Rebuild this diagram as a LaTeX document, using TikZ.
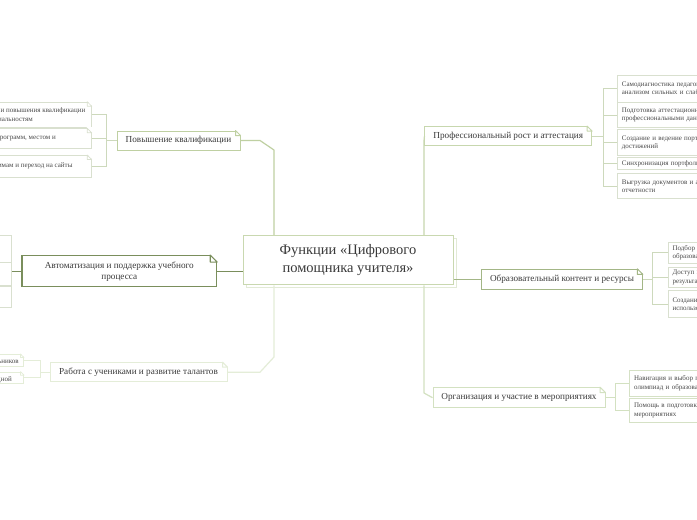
\documentclass[tikz,border=0pt]{standalone}
\usepackage{fontspec}
\setmainfont{Liberation Serif}
\usetikzlibrary{calc}
\definecolor{txt}{HTML}{3A3A3A}
\definecolor{subtxt}{HTML}{4A4A4A}
\definecolor{cc}{HTML}{C9D8B0}
\definecolor{csh}{HTML}{E2EAD6}
\definecolor{pkc}{HTML}{BFD0A2}
\definecolor{autoc}{HTML}{7A8E5C}
\definecolor{rabc}{HTML}{E4EDD8}
\definecolor{profc}{HTML}{C7D7AE}
\definecolor{obrc}{HTML}{A3B686}
\definecolor{orgc}{HTML}{D3E1C1}
\definecolor{subc}{HTML}{D9E0CF}
\definecolor{subl}{HTML}{CDD9BC}
\newcommand{\mydogear}[3]{%
  \fill[white] ($(#1.north east)+(-#2-0.7,-1.3)$) -- ($(#1.north east)+(1.3,-1.3)$) -- ($(#1.north east)+(1.3,#2+0.7)$) -- cycle;
  \draw[#3, line join=round] ($(#1.north east)+(-#2,0)$) -- ($(#1.north east)+(0,#2)$) -- ($(#1.north east)+(-#2,#2)$) -- cycle;
}
\tikzset{
  brnode/.style={fill=white, inner sep=0pt, font=\fontsize{9.2}{11}\selectfont, text=txt, align=center},
  subR/.style={draw=subc, line width=0.7pt, fill=white, anchor=north west, text width=192pt, inner xsep=4.5pt, inner ysep=0pt, font=\fontsize{7}{8.5}\selectfont, text=subtxt, align=left},
  subL/.style={draw=subc, line width=0.7pt, fill=white, anchor=north east, minimum width=200pt, inner sep=0pt},
  subtext/.style={inner sep=0pt, anchor=base east, font=\fontsize{7}{8.5}\selectfont, text=subtxt},
  subline/.style={draw=subl, line width=0.7pt},
}
\begin{document}
\begin{tikzpicture}[x=1pt,y=-1pt]
\useasboundingbox (0,0) rectangle (697,520);
\fill[white] (0,0) rectangle (697,520);
\clip (0,0) rectangle (697,520);

% central node with shadow
\draw[csh, line width=1pt] (246,238) rectangle (456,287.5);
\node[draw=cc, line width=1pt, fill=white, minimum width=210pt, minimum height=49.5pt, inner sep=0pt,
      font=\fontsize{14.5}{18}\selectfont, align=center, text=txt] (c) at (348,260) {Функции «Цифрового\\помощника учителя»};

% branch nodes
\node[brnode, draw=pkc, line width=1pt, minimum width=123pt, minimum height=19pt] (pk) at (178.5,140.5) {Повышение квалификации};
\node[brnode, draw=autoc, line width=1.3pt, minimum width=194.5pt, minimum height=31pt] (au) at (119.3,271.2) {Автоматизация и поддержка учебного\\процесса};
\node[brnode, draw=rabc, line width=1pt, minimum width=177pt, minimum height=19pt] (rb) at (138.5,372.2) {Работа с учениками и развитие талантов};
\node[brnode, draw=profc, line width=1pt, minimum width=166.7pt, minimum height=19.3pt] (pr) at (508.3,136.3) {Профессиональный рост и аттестация};
\node[brnode, draw=obrc, line width=1pt, minimum width=160.6pt, minimum height=20pt] (ob) at (562,279.3) {Образовательный контент и ресурсы};
\node[brnode, draw=orgc, line width=1pt, minimum width=172pt, minimum height=20pt] (og) at (519,397.7) {Организация и участие в мероприятиях};

% left sub boxes (Повышение квалификации)
\node[subL, minimum height=25pt] (k1) at (91.7,101.7) {};
\node[subL, minimum height=20pt] (k2) at (91.7,128.3) {};
\node[subL, minimum height=21.7pt] (k3) at (91.7,155) {};
\node[subtext] (k1a) at (85.5,112) {Подбор курсов и повышения квалификации};
\node[subtext] (k1b) at (33,121) {по специальностям};
\node[subtext] (k2a) at (56,139.5) {Поиск программ, местом и};
\node[subtext] (k3a) at (72.7,167.5) {Доступ к программам и переход на сайты};
\mydogear{k1}{4.5}{draw=subc, line width=0.7pt}
\mydogear{k2}{4.5}{draw=subc, line width=0.7pt}
\mydogear{k3}{4.5}{draw=subc, line width=0.7pt}

% left sub boxes (Автоматизация)
\node[subL, minimum height=26.2pt] (a1) at (12,235.3) {};
\node[subL, minimum height=22.8pt] (a2) at (12,262.2) {};
\node[subL, minimum height=21.5pt] (a3) at (12,285.5) {};

% left sub boxes (Работа с учениками)
\node[subL, draw=rabc, minimum height=12pt] (r1) at (24,354) {};
\node[subL, draw=rabc, minimum height=11.3pt] (r2) at (24,371.7) {};
\node[subtext] (r1a) at (19,363) {школьников};
\node[subtext] (r2a) at (12,381) {олимпиадной};
\mydogear{r1}{3.5}{draw=rabc, line width=0.7pt}
\mydogear{r2}{3.5}{draw=rabc, line width=0.7pt}

% right sub boxes (Профессиональный рост)
\node[subR, minimum height=26.7pt] (p1) at (617,75) {Самодиагностика педагога с\\анализом сильных и слабых сторон};
\node[subR, minimum height=25pt] (p2) at (617,102.3) {Подготовка аттестационных материалов\\профессиональными данными};
\node[subR, minimum height=25.7pt] (p3) at (617,129.3) {Создание и ведение портфолио\\достижений};
\node[subR, minimum height=12.6pt] (p4) at (617,156.7) {Синхронизация портфолио};
\node[subR, minimum height=25pt] (p5) at (617,173.3) {Выгрузка документов и аналитической\\отчетности};

% right sub boxes (Образовательный контент)
\node[subR, minimum height=21pt] (o1) at (667.7,241.7) {Подбор материалов\\образовательных};
\node[subR, minimum height=19.4pt] (o2) at (667.7,267.3) {Доступ к\\результатам};
\node[subR, minimum height=27.3pt] (o3) at (667.7,290) {Создание и\\использование};

% right sub boxes (Организация)
\node[subR, draw=orgc!70!subc, minimum height=25.7pt] (g1) at (629.3,370) {Навигация и выбор по\\олимпиад и образовательных};
\node[subR, draw=orgc!70!subc, minimum height=24pt] (g2) at (629.3,398.3) {Помощь в подготовке к\\мероприятиях};

% dog-ears of branch nodes
\mydogear{pk}{5}{draw=pkc, line width=1pt}
\mydogear{au}{7}{draw=autoc, line width=1.1pt}
\mydogear{rb}{5}{draw=rabc, line width=1pt}
\mydogear{pr}{5}{draw=profc, line width=1pt}
\mydogear{ob}{5.5}{draw=obrc, line width=1pt}
\mydogear{og}{5.5}{draw=orgc, line width=1pt}

% main connectors
\coordinate (pkb1) at (260,140.5);
\coordinate (pkb2) at (274,150);
\draw[pkc, line width=1.2pt, line join=round] (pk.east) -- (pkb1) -- (pkb2) -- (pkb2 |- c.north);
\draw[autoc, line width=1.3pt] (au.east) -- (au.east -| c.west);
\coordinate (rbb1) at (260,372.2);
\coordinate (rbb2) at (274,357);
\draw[rabc, line width=1.2pt, line join=round] (rb.east) -- (rbb1) -- (rbb2) -- (rbb2 |- c.south);
\coordinate (prb) at (424,141);
\draw[profc, line width=1.2pt, line join=round] (prb |- c.north) -- (prb) -- (pr.west);
\draw[obrc, line width=1.2pt] (ob.west -| c.east) -- (ob.west);
\coordinate (ogb) at (424,393);
\draw[orgc, line width=1.2pt, line join=round] (ogb |- c.south) -- (ogb) -- (og.west);

% sub connectors: Повышение квалификации
\coordinate (pkj) at (106.7,140.5);
\draw[subline] (pk.west) -- (pkj);
\draw[subline] (pkj |- k1.east) -- (pkj |- k3.east);
\draw[subline] (pkj |- k1.east) -- (k1.east);
\draw[subline] (pkj |- k2.east) -- (k2.east);
\draw[subline] (pkj |- k3.east) -- (k3.east);

% Автоматизация
\draw[autoc, line width=1.1pt] (au.west) -- (au.west -| a2.east);

% Работа с учениками
\coordinate (rbj) at (40,372.2);
\draw[draw=rabc, line width=0.8pt] (rb.west) -- (rbj);
\draw[draw=rabc, line width=0.8pt] (rbj |- r1.east) -- (rbj |- r2.east);
\draw[draw=rabc, line width=0.8pt] (rbj |- r1.east) -- (r1.east);
\draw[draw=rabc, line width=0.8pt] (rbj |- r2.east) -- (r2.east);

% Профессиональный рост
\coordinate (prj) at (603,136.3);
\draw[subline] (pr.east) -- (prj);
\draw[subline] (prj |- p1.west) -- (prj |- p5.west);
\foreach \n in {p1,p2,p3,p4,p5} \draw[subline] (prj |- \n.west) -- (\n.west);

% Образовательный контент
\coordinate (obj) at (652.3,279.3);
\draw[subline] (ob.east) -- (obj);
\draw[subline] (obj |- o1.west) -- (obj |- o3.west);
\foreach \n in {o1,o2,o3} \draw[subline] (obj |- \n.west) -- (\n.west);

% Организация
\coordinate (ogj) at (615,397.7);
\draw[subline, draw=orgc] (og.east) -- (ogj);
\draw[subline, draw=orgc] (ogj |- g1.west) -- (ogj |- g2.west);
\foreach \n in {g1,g2} \draw[subline, draw=orgc] (ogj |- \n.west) -- (\n.west);
\end{tikzpicture}
\end{document}
